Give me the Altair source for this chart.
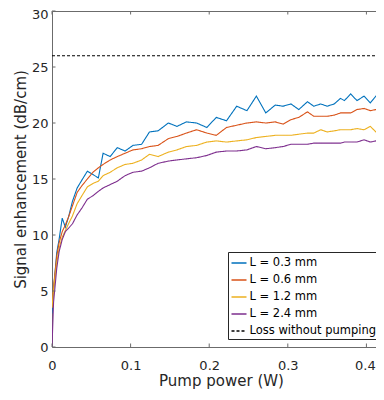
import altair as alt
import pandas as pd

# ---- data ----
power = [0.000, 0.002, 0.006, 0.009, 0.013, 0.017, 0.021, 0.026, 0.032, 0.038,
         0.045, 0.052, 0.059, 0.065, 0.074, 0.083, 0.093, 0.103, 0.114, 0.124,
         0.135, 0.148, 0.159, 0.171, 0.184, 0.197, 0.209, 0.222, 0.235, 0.248,
         0.260, 0.272, 0.284, 0.294, 0.304, 0.314, 0.325, 0.333, 0.342, 0.350,
         0.359, 0.367, 0.372, 0.380, 0.388, 0.397, 0.405, 0.412, 0.416, 0.422,
         0.430]

l_03 = [3.0, 5.1, 8.4, 9.6, 11.5, 10.7, 11.6, 13.0, 14.2, 14.9,
        15.7, 15.4, 15.1, 17.3, 17.0, 17.8, 17.5, 18.0, 18.1, 19.2,
        19.3, 20.0, 19.7, 20.1, 20.0, 19.6, 20.5, 20.2, 21.5, 21.1,
        22.4, 20.9, 21.6, 21.5, 21.7, 21.2, 21.9, 21.5, 21.7, 21.5,
        21.7, 22.2, 22.0, 22.6, 22.0, 22.4, 21.8, 22.4, 22.0, 22.6,
        22.3]

l_06 = [3.5, 5.4, 8.1, 9.3, 10.3, 10.9, 11.6, 12.6, 13.8, 14.4,
        15.0, 15.6, 16.0, 16.3, 16.7, 17.0, 17.3, 17.6, 17.7, 17.9,
        18.0, 18.6, 18.8, 19.1, 19.4, 19.1, 18.9, 19.6, 19.8, 20.0,
        20.1, 20.0, 20.1, 19.9, 20.3, 20.5, 21.0, 20.6, 20.6, 20.6,
        20.7, 20.9, 20.9, 20.9, 21.2, 21.3, 21.1, 21.2, 21.0, 21.1,
        21.0]

l_12 = [3.5, 5.1, 7.5, 8.8, 9.8, 10.4, 11.0, 11.7, 12.8, 13.5,
        14.3, 14.6, 14.8, 15.3, 15.6, 16.0, 16.3, 16.4, 16.7, 17.2,
        17.0, 17.4, 17.6, 17.9, 18.0, 18.3, 18.4, 18.3, 18.4, 18.5,
        18.7, 18.8, 18.9, 18.9, 18.9, 19.0, 19.1, 19.1, 19.4, 19.2,
        19.3, 19.4, 19.4, 19.4, 19.5, 19.4, 19.7, 19.2, 19.7, 19.4,
        19.6]

l_24 = [0.0, 4.0, 7.0, 8.5, 9.6, 10.3, 10.6, 11.0, 11.8, 12.4,
        13.2, 13.5, 13.9, 14.2, 14.5, 14.8, 15.3, 15.6, 15.7, 16.0,
        16.4, 16.6, 16.7, 16.8, 16.9, 17.1, 17.4, 17.5, 17.5, 17.6,
        17.9, 17.7, 17.8, 17.9, 18.1, 18.1, 18.1, 18.2, 18.2, 18.2,
        18.2, 18.2, 18.3, 18.3, 18.3, 18.5, 18.3, 18.4, 18.4, 18.5,
        18.5]

loss_power = [0.0, 0.43]
loss_value = [26.0, 26.0]

series_names = ["L = 0.3 mm", "L = 0.6 mm", "L = 1.2 mm", "L = 2.4 mm",
                "Loss without pumping"]
series_colors = ["#0072BD", "#D95319", "#EDB120", "#7E2F8E", "#000000"]
series_dash = [[1, 0], [1, 0], [1, 0], [1, 0], [3, 2]]

x_ticks = [0, 0.1, 0.2, 0.3, 0.4]
y_ticks = [0, 5, 10, 15, 20, 25, 30]

# ---- build tables ----
rows = []
for name, vals in zip(series_names[:4], [l_03, l_06, l_12, l_24]):
    for p, v in zip(power, vals):
        rows.append({"series": name, "power": p, "value": v})
for p, v in zip(loss_power, loss_value):
    rows.append({"series": series_names[4], "power": p, "value": v})
df = pd.DataFrame(rows)

xt = pd.DataFrame({"t": x_ticks})
yt = pd.DataFrame({"t": y_ticks})

W, H = 324, 336
FONT = "DejaVu Sans"
AX = "#6b6b6b"
TXT = "#262626"

xscale = alt.Scale(domain=[0, 0.4122], nice=False, zero=False)
yscale = alt.Scale(domain=[0, 30], nice=False)

legend = alt.Legend(
    orient="none", legendX=176, legendY=241, title=None,
    symbolType="stroke", symbolSize=225, symbolStrokeWidth=1.5,
    labelFont=FONT, labelFontSize=11.5, labelColor="#000000",
    padding=2.5, rowPadding=3, labelOffset=2, labelLimit=300,
    fillColor="#ffffff", strokeColor=TXT, direction="vertical",
)

lines = alt.Chart(df).mark_line(strokeWidth=1.1, clip=True).encode(
    x=alt.X("power:Q", scale=xscale,
            axis=alt.Axis(values=x_ticks, format="~g", grid=False, ticks=False,
                          tickSize=0, domainColor=AX, domainWidth=1,
                          labelFont=FONT, labelFontSize=13, labelColor=TXT,
                          labelBaseline="alphabetic", labelPadding=22,
                          labelOffset=alt.expr("datum.value == 0.4 ? -1.5 : 0"),
                          labelFlush=False, labelOverlap=False,
                          title="Pump power (W)", titleFont=FONT,
                          titleFontSize=15, titleFontWeight="normal",
                          titleColor=TXT, titleX=169, titleY=38.5,
                          titleAlign="center", titleBaseline="alphabetic")),
    y=alt.Y("value:Q", scale=yscale,
            axis=alt.Axis(values=y_ticks, grid=False, ticks=False, tickSize=0,
                          domainColor=AX, domainWidth=1,
                          labelFont=FONT, labelFontSize=13, labelColor=TXT,
                          labelPadding=4, labelFlush=False, labelOverlap=False,
                          labelOffset=alt.expr("datum.value == 30 ? 3 : 0"),
                          title="Signal enhancement (dB/cm)", titleFont=FONT,
                          titleFontSize=15, titleFontWeight="normal",
                          titleColor=TXT, titleAngle=270, titleX=-27,
                          titleY=168, titleAlign="center",
                          titleBaseline="alphabetic")),
    color=alt.Color("series:N",
                    scale=alt.Scale(domain=series_names, range=series_colors),
                    legend=legend),
    strokeDash=alt.StrokeDash("series:N",
                              scale=alt.Scale(domain=series_names, range=series_dash),
                              legend=legend),
    order=alt.Order("series:N"),
)

top_axis = alt.Chart(xt).mark_rule(color=AX, strokeWidth=1).encode(
    x=alt.X("t:Q", scale=xscale,
            axis=alt.Axis(orient="top", labels=False, ticks=False, grid=False,
                          domainColor=AX, domainWidth=1, title="")),
    y=alt.value(0), y2=alt.value(3.5),
)

bottom_ticks = alt.Chart(xt).mark_rule(color=AX, strokeWidth=1).encode(
    x=alt.X("t:Q", scale=xscale, axis=None),
    y=alt.value(H), y2=alt.value(H - 3.5),
)

left_ticks = alt.Chart(yt).mark_rule(color=AX, strokeWidth=1).encode(
    y=alt.Y("t:Q", scale=yscale, axis=None),
    x=alt.value(0), x2=alt.value(3.5),
)

chart = alt.layer(lines, top_axis, bottom_ticks, left_ticks).resolve_axis(
    x="independent", y="independent"
).properties(
    width=W, height=H,
    autosize=alt.AutoSizeParams(type="none"),
    padding={"left": 44, "top": 3, "right": 0, "bottom": 45},
    background="white",
).configure_view(stroke=None)

chart.save("out.html", embed_options={"renderer": "svg", "actions": False})
